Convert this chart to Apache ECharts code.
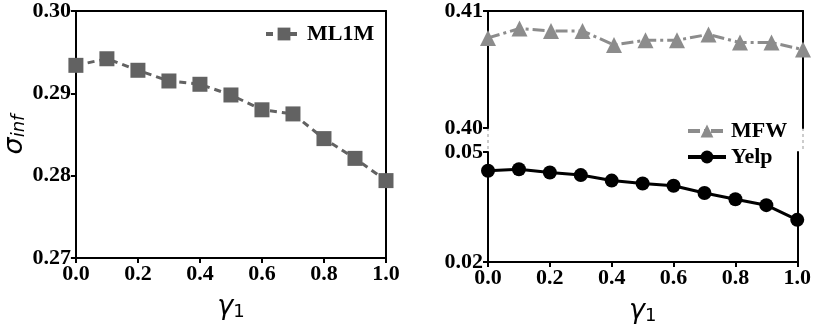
<!DOCTYPE html>
<html>
<head>
<meta charset="utf-8">
<script src="https://cdn.jsdelivr.net/npm/echarts@6/dist/echarts.min.js"></script>
<style>
  html, body { margin: 0; padding: 0; background: #fff; }
  #chart { width: 814px; height: 326px; }
</style>
</head>
<body>
<div id="chart"></div>
<script>
// gamma_1 values on the x axis
const gamma = [0.0, 0.1, 0.2, 0.3, 0.4, 0.5, 0.6, 0.7, 0.8, 0.9, 1.0]
// sigma_inf per dataset
const ml1m = [0.2934, 0.2942, 0.2928, 0.2915, 0.2911, 0.2898, 0.2880, 0.2875, 0.2845, 0.2821, 0.2794]
const mfw = [0.4077, 0.4085, 0.4083, 0.4083, 0.4071, 0.4075, 0.4075, 0.4080, 0.4073, 0.4073, 0.4067]
const yelp = [0.0449, 0.0453, 0.0444, 0.0437, 0.0422, 0.0414, 0.0408, 0.0388, 0.0371, 0.0355, 0.0315]

const pairs = (ys) => gamma.map((g, i) => [g, ys[i]])

const serif = 'Liberation Serif'
const tickFont = { fontFamily: serif, fontWeight: 'bold', fontSize: 22, color: '#000' }
const axisLine = { show: true, onZero: false, lineStyle: { color: '#000', width: 2 } }
const tick = { show: true, inside: false, length: 5, lineStyle: { color: '#000', width: 2 } }

const gammaName = '{g|γ}{s|1}'
const gammaRich = {
  g: { fontFamily: 'DejaVu Sans', fontStyle: 'italic', fontSize: 27, color: '#000' },
  s: { fontFamily: 'DejaVu Sans', fontSize: 18, color: '#000', verticalAlign: 'bottom', padding: [10, 0, 0, 0] },
}

// layout of the three grids
const L = { left: 70, top: 7, width: 316, height: 267 }
const RT = { left: 488, top: 7, width: 315, height: 121 }
const RB = { left: 488, top: 152, width: 315, height: 122 }

function xBottom(gridIndex, withName) {
  return {
    type: 'value', gridIndex, position: 'bottom', min: 0, max: 1, interval: 0.2,
    axisLine, axisTick: tick, splitLine: { show: false },
    axisLabel: Object.assign({ margin: 5, formatter: (v) => v.toFixed(1) }, tickFont),
    name: withName ? gammaName : '', nameLocation: 'middle', nameGap: 35,
    nameTextStyle: { rich: gammaRich },
  }
}
function xTop(gridIndex) {
  return {
    type: 'value', gridIndex, position: 'top', min: 0, max: 1,
    axisLine, axisTick: { show: false }, axisLabel: { show: false }, splitLine: { show: false },
  }
}
function yRight(gridIndex, min, max) {
  return {
    type: 'value', gridIndex, position: 'right', min, max,
    axisLine, axisTick: { show: false }, axisLabel: { show: false }, splitLine: { show: false },
  }
}
function yLeft(gridIndex, min, max, interval, extra) {
  return Object.assign({
    type: 'value', gridIndex, position: 'left', min, max, interval,
    axisLine, axisTick: tick, splitLine: { show: false },
    axisLabel: Object.assign({ margin: 5, formatter: (v) => v.toFixed(2) }, tickFont),
  }, extra || {})
}

const legendText = { fontFamily: serif, fontWeight: 'bold', fontSize: 22, color: '#000' }

const chart = echarts.init(document.getElementById('chart'))
chart.setOption({
  animation: false,
  backgroundColor: '#fff',
  grid: [L, RT, RB],
  xAxis: [xBottom(0, true), xTop(0), xTop(1), xBottom(2, true)],
  yAxis: [
    yLeft(0, 0.27, 0.30, 0.01, {
      name: '{g|σ}{s|inf}', nameLocation: 'middle', nameGap: 42,
      nameTextStyle: {
        rich: {
          g: { fontFamily: 'DejaVu Sans', fontStyle: 'italic', fontSize: 27, color: '#000' },
          s: { fontFamily: 'DejaVu Sans', fontStyle: 'italic', fontSize: 18, color: '#000', verticalAlign: 'bottom', padding: [10, 0, 0, 0] },
        },
      },
    }),
    yRight(0, 0.27, 0.30),
    yLeft(1, 0.40, 0.41, 0.01),
    yRight(1, 0.40, 0.41),
    yLeft(2, 0.02, 0.05, 0.03),
    yRight(2, 0.02, 0.05),
  ],
  legend: [
    {
      data: ['ML1M'], left: 259, top: 18, itemWidth: 36, itemHeight: 16,
      lineStyle: { width: 4 },
      textStyle: legendText,
    },
    {
      data: ['MFW', 'Yelp'], orient: 'vertical', left: 681, top: 115, itemWidth: 38, itemHeight: 16, itemGap: 4,
      lineStyle: { width: 4 },
      textStyle: legendText,
    },
  ],
  series: [
    {
      name: 'ML1M', type: 'line', xAxisIndex: 0, yAxisIndex: 0, data: pairs(ml1m),
      symbol: 'rect', symbolSize: 15, color: '#626262',
      lineStyle: { type: [7, 5], width: 3, color: '#626262' },
      itemStyle: { color: '#626262' },
    },
    {
      name: 'MFW', type: 'line', xAxisIndex: 2, yAxisIndex: 2, data: pairs(mfw),
      symbol: 'triangle', symbolSize: 16, color: '#8c8c8c',
      lineStyle: { type: [12, 4, 3, 4], width: 3, color: '#8c8c8c' },
      itemStyle: { color: '#8c8c8c' },
    },
    {
      name: 'Yelp', type: 'line', xAxisIndex: 3, yAxisIndex: 4, data: pairs(yelp),
      symbol: 'circle', symbolSize: 14, color: '#000',
      lineStyle: { width: 3, color: '#000' },
      itemStyle: { color: '#000' },
    },
  ],
  graphic: [
    {
      type: 'line', silent: true,
      shape: { x1: RT.left, y1: RT.top + RT.height, x2: RB.left, y2: RB.top },
      style: { stroke: '#999', lineWidth: 1, lineDash: [3, 3] },
    },
    {
      type: 'line', silent: true,
      shape: { x1: RT.left + RT.width, y1: RT.top + RT.height, x2: RB.left + RB.width, y2: RB.top },
      style: { stroke: '#999', lineWidth: 1, lineDash: [3, 3] },
    },
  ],
})
</script>
</body>
</html>
